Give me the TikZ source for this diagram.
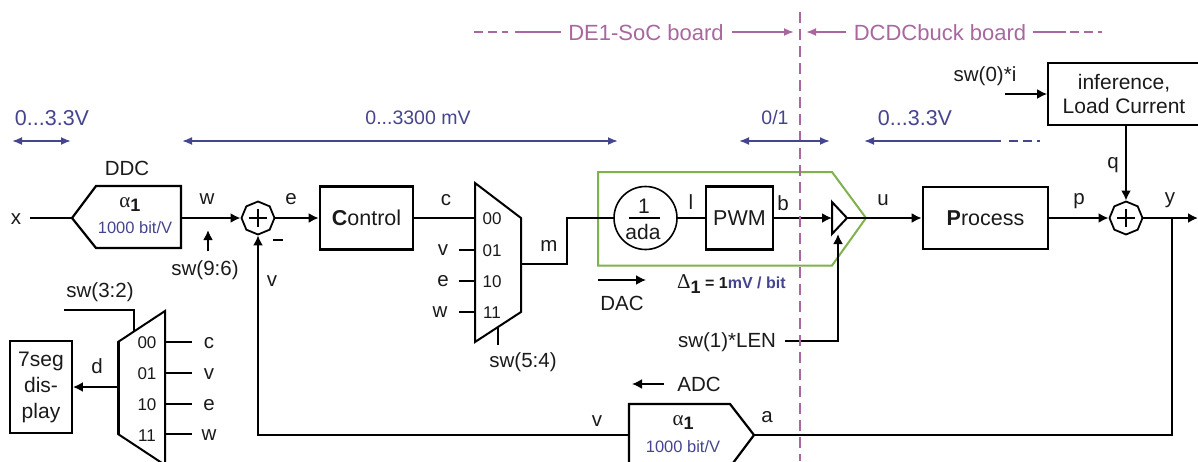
\documentclass[tikz,border=0pt]{standalone}
\usepackage{fontspec}
\setmainfont{Liberation Sans}
\newfontfamily\grk{Liberation Serif}
\usetikzlibrary{arrows.meta,shapes.geometric,calc}
\definecolor{pur}{HTML}{A9669F}
\definecolor{blu}{HTML}{45458F}
\definecolor{grn}{HTML}{7FB24C}
\definecolor{ink}{HTML}{1A1A1A}
\tikzset{
  x=1pt,y=-1pt,
  lbl/.style={inner sep=0pt,text=ink,font=\fontsize{20.5}{24}\selectfont},
  small/.style={inner sep=0pt,text=ink,font=\fontsize{17}{20}\selectfont},
  blk/.style={draw=black,line width=2.6pt,inner sep=0pt,font=\fontsize{21.5}{24}\selectfont,text=ink},
  thinblk/.style={draw=black,line width=2pt,inner sep=0pt,text=ink,align=center},
  shp/.style={draw=black,line width=2pt,line join=miter},
  wire/.style={draw=black,line width=2.4pt},
  twire/.style={draw=black,line width=1.7pt},
  arr/.style={-{Latex[length=10pt,width=10pt]}},
  sumn/.style={regular polygon,regular polygon sides=8,draw=black,line width=1.8pt,minimum size=33pt,inner sep=0pt,shape border rotate=22.5},
  rng/.style={draw=blu,line width=1.8pt,{Latex[length=10pt,width=8pt]}-{Latex[length=10pt,width=8pt]}},
  rngr/.style={draw=blu,line width=1.8pt,{Latex[length=10pt,width=8pt]}-},
  rdash/.style={draw=blu,line width=1.8pt,dash pattern=on 9pt off 5pt},
  blab/.style={inner sep=0pt,text=blu,font=\fontsize{19.5}{23}\selectfont},
  bsm/.style={inner sep=0pt,text=blu,font=\fontsize{16.5}{19}\selectfont},
  plab/.style={inner sep=0pt,text=pur,font=\fontsize{22}{25}\selectfont},
  pl/.style={draw=pur,line width=1.8pt},
  parr/.style={-{Latex[length=10pt,width=8pt]}},
  pdash/.style={draw=pur,line width=1.8pt,dash pattern=on 9pt off 5pt},
}
\begin{document}
\begin{tikzpicture}
\useasboundingbox (0,0) rectangle (1198,461);
\clip (0,0) rectangle (1198,461);
% green DAC outline
\draw[grn,line width=2pt] (598,172) -- (832,172) -- (866,218) -- (832,265.5) -- (598,265.5) -- cycle;
% coordinates of drawn shapes
\coordinate (hdr) at (0,32);
\coordinate (ddcT) at (72,218);
\coordinate (ddcE) at (181,218);
\coordinate (mAin) at (475,218);
\coordinate (mAv) at (475,250);
\coordinate (mAe) at (475,281);
\coordinate (mAw) at (475,312);
\coordinate (mAo) at (521,264);
\coordinate (mBo) at (118,387);
\coordinate (triW) at (832,218);
\coordinate (triT) at (847,218);
\coordinate (triB) at (838,234);
\coordinate (greenT) at (866,218);
\coordinate (adcT) at (754,435);
\coordinate (adcW) at (629,435);
% boxes
\node[blk,minimum width=93pt,minimum height=63pt] (ctl) at (366.5,218) {\textbf{C}ontrol};
\node[thinblk,line width=2.6pt,minimum width=67pt,minimum height=63pt,font=\fontsize{21.5}{24}\selectfont] (pwm) at (739.5,218) {PWM};
\node[blk,minimum width=125pt,minimum height=62pt] (proc) at (985.5,218) {\textbf{P}rocess};
\node[thinblk,minimum width=152pt,minimum height=62pt,line width=1.8pt,font=\fontsize{21}{24}\selectfont] (inf) at (1124,94) {inference,\\Load Current};
\node[thinblk,minimum width=62pt,minimum height=92pt,line width=1.8pt,font=\fontsize{21}{26}\selectfont] (seg) at (41,387) {7seg\\dis-\\play};
\node[sumn] (s1) at (258,218) {};
\node[sumn] (s2) at (1126,218) {};
\node[circle,draw=black,line width=1.6pt,minimum size=63pt,inner sep=0pt] (ada) at (645.5,218) {};
\node[lbl,font=\fontsize{21}{24}\selectfont] (ada1) at (644,206) {1};
\node[lbl,font=\fontsize{21}{24}\selectfont] (ada2) at (643,232) {ada};
\draw[black,line width=2pt] (629,218) -- (660,218);
% plus signs
\draw[black,line width=2pt] (258,209) -- (258,227) (249,218) -- (267,218);
\draw[black,line width=2pt] (1126,209) -- (1126,227) (1117,218) -- (1135,218);
\draw[black,line width=2pt] (273,240) -- (283,240);
% DDC, ADC
\draw[shp,line width=2.2pt] (72,218) -- (96,186) -- (181,186) -- (181,248) -- (96,248) -- cycle;
\draw[shp,line width=2.2pt] (629,467) -- (629,404) -- (730,404) -- (754,435) -- (730,467);
% muxes
\draw[shp] (475,183) -- (521,218) -- (521,312) -- (475,342) -- cycle;
\draw[shp] (118,342) -- (165,311) -- (165,465) -- (118,434) -- cycle;
\draw[black,line width=3pt] (118,342) -- (118,434);
% triangle
\draw[shp] (832,202) -- (847,218) -- (832,234) -- cycle;
% wires
\draw[twire] (30,218) coordinate (xin) -- (ddcT);
\draw[wire,arr] (ddcE) -- (s1.west);
\draw[wire,arr] (s1.east) -- (ctl.west);
\draw[wire] (ctl.east) -- (mAin);
\draw[twire] (mAo) -- (567,264) -- (567,218) -- (ada.west);
\draw[twire] (ada.east) -- (pwm.west);
\draw[wire,arr] (pwm.east) -- (triW);
\draw[wire] (triT) -- (greenT);
\draw[wire,arr] (greenT) -- (proc.west);
\draw[wire,arr] (proc.east) -- (s2.west);
\coordinate (yout) at (1198,218);
\draw[wire,arr] (s2.east) -- (yout);
\draw[wire,arr] (inf.south -| s2) -- (s2.north);
\draw[twire] (1172,218) -- (1172,435) -- (adcT);
\draw[twire,arr] (adcW) -- (258,435) -- (s1.south);
\draw[wire,arr] (mBo) -- (seg.east);
% select lines
\draw[twire] (459,250) -- (mAv);
\draw[twire] (459,281) -- (mAe);
\draw[twire] (459,312) -- (mAw);
\draw[twire] (498,327) -- (498,345);
\draw[wire] (64,310) -- (134,310) -- (134,332);
\draw[twire] (166,342) -- (192,342);
\draw[twire] (166,373) -- (192,373);
\draw[twire] (166,404) -- (192,404);
\draw[twire] (166,434) -- (192,434);
\draw[wire,arr] (785,341) -- (838,341) -- (triB);
\coordinate (swi) at (1005,94);
\draw[twire,arr] (swi) -- (inf.west |- swi);
\draw[twire,line width=2pt,arr] (208,251) -- (208,230);
\draw[twire,arr] (598,280) -- (646,280);
\draw[twire,arr] (664,384) -- (632,384);
% board divider and headers
\draw[pur,line width=2.6pt,dash pattern=on 11pt off 6pt] (800,12) -- (800,461);
\node[plab] (de) at (646,33) {DE1-SoC board};
\node[plab] (dc) at (940,33) {DCDCbuck board};
\draw[pdash] (474,32) -- (508,32);
\draw[pl] (515,32) -- ([xshift=-7pt]de.west |- hdr);
\draw[pl,parr] ([xshift=8pt]de.east |- hdr) -- (794,32);
\draw[pl,parr] (846,32) -- (806,32);
\draw[pl] ([xshift=7pt]dc.east |- hdr) -- (1066,32);
\draw[pdash] (1070,32) -- (1102,32);
% voltage ranges
\node[blab,font=\fontsize{21.5}{24}\selectfont] (r1) at (52,118) {0...3.3V};
\node[blab] (r2) at (418,118) {0...3300 mV};
\node[blab] (r3) at (775,118) {0/1};
\node[blab,font=\fontsize{21.5}{24}\selectfont] (r4) at (915,118) {0...3.3V};
\draw[rng] (12,141) -- (71,141);
\draw[rng] (182,141) -- (618,141);
\draw[rng] (739,141) -- (830,141);
\draw[rngr] (864,141) -- (1001,141);
\draw[rdash] (1009,141) -- (1040,141);
% labels
\node[lbl] (Lx) at (16,219) {x};
\node[lbl] (Lddc) at (127,168) {DDC};
\node[lbl] (Lw) at (207,199) {w};
\node[lbl] (Le) at (291,199) {e};
\node[lbl] (Lc) at (446,200) {c};
\node[lbl] (Lm) at (549,246) {m};
\node[lbl] (Ll) at (691,202) {l};
\node[lbl] (Lb) at (783,203) {b};
\node[lbl] (Lu) at (883,200) {u};
\node[lbl] (Lp) at (1079,201) {p};
\node[lbl] (Lq) at (1113,165) {q};
\node[lbl] (Ly) at (1170,200) {y};
\node[lbl] (Lv) at (272,281) {v};
\node[lbl] (Lsw96) at (205,270) {sw(9:6)};
\node[lbl] (Lsw32) at (100,292) {sw(3:2)};
\node[lbl] (Lsw54) at (523,362) {sw(5:4)};
\node[lbl] (Lsw1) at (727,342) {sw(1)*LEN};
\node[lbl] (Lsw0) at (985,76) {sw(0)*i};
\node[lbl] (Ld) at (97,366) {d};
\node[lbl] (Lc2) at (209,343) {c};
\node[lbl] (Lv2) at (209,374) {v};
\node[lbl] (Le2) at (209,405) {e};
\node[lbl] (Lw2) at (209,435) {w};
\node[lbl] (Lv3) at (443,250) {v};
\node[lbl] (Le3) at (443,281) {e};
\node[lbl] (Lw3) at (440,312) {w};
\node[small] (a00) at (492,219) {00};
\node[small] (a01) at (492,251) {01};
\node[small] (a10) at (492,282) {10};
\node[small] (a11) at (492,313) {11};
\node[small] (b00) at (147,343) {00};
\node[small] (b01) at (147,374) {01};
\node[small] (b10) at (147,405) {10};
\node[small] (b11) at (147,436) {11};
\node[lbl] (Ldac) at (622,303) {DAC};
\node[lbl] (Ladc) at (699,384) {ADC};
\node[lbl] (La) at (767,417) {a};
\node[lbl] (Lv4) at (597,421) {v};
\node[lbl] (al1) at (130,205) {{\grk\fontsize{21}{24}\selectfont α}\raisebox{-4pt}{\fontsize{18}{20}\selectfont\textbf{1}}};
\node[bsm] (bit1) at (135,228) {1000 bit/V};
\node[lbl] (al2) at (683,423) {{\grk\fontsize{21}{24}\selectfont α}\raisebox{-4pt}{\fontsize{18}{20}\selectfont\textbf{1}}};
\node[bsm] (bit2) at (683,447) {1000 bit/V};
\node[inner sep=0pt,anchor=west,font=\bfseries\fontsize{16}{18}\selectfont,text=ink] (delta) at (677,284) {{\grk\mdseries\fontsize{21}{24}\selectfont Δ}\raisebox{-5pt}{\fontsize{18}{20}\selectfont 1}{\ }= 1\textcolor{blu}{mV / bit}};
\end{tikzpicture}
\end{document}
